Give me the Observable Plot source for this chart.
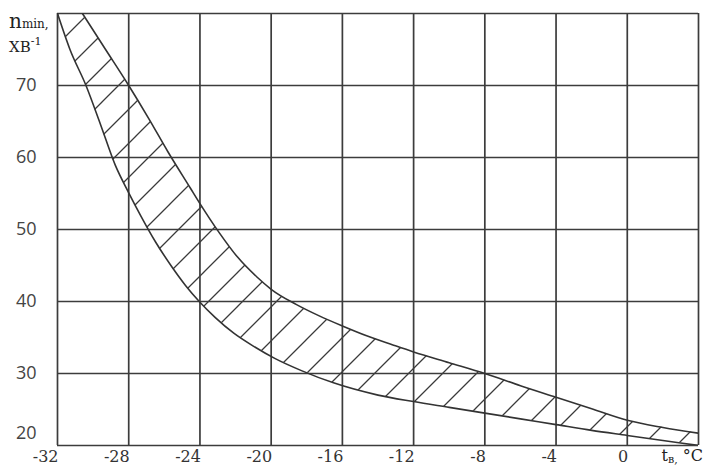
<!DOCTYPE html>
<html>
<head>
<meta charset="utf-8">
<script src="https://cdn.jsdelivr.net/npm/d3@7"></script>
<script src="https://cdn.jsdelivr.net/npm/@observablehq/plot@0.6"></script>
<style>
  html, body { margin: 0; padding: 0; background: #fff; }
  #chart { width: 704px; height: 465px; overflow: hidden; }
</style>
</head>
<body>
<div id="chart"></div>
<script>
// Grid / tick values
const xGrid = [-32, -28, -24, -20, -16, -12, -8, -4, 0, 4];
const xLabels = [-32, -28, -24, -20, -16, -12, -8, -4, 0];
const yGrid = [20, 30, 40, 50, 60, 70, 80];
const yLabels = [30, 40, 50, 60, 70];
const yLabelsLow = [20];

// Upper boundary of the band (n_min vs t_в)
const upperX = [-30.6, -29.3, -28, -26.85, -25.8, -24.55, -24, -22.9, -21.9, -20.8, -20, -18.6, -17.3, -16, -14.6, -13.2, -12, -10, -8, -6, -4, -2, 0, 2, 4];
const upperY = [80, 75, 70, 65.3, 60.8, 55.8, 53.6, 49.5, 46.2, 43.4, 41.7, 39.6, 38.0, 36.6, 35.2, 34.0, 33.0, 31.5, 30.0, 28.3, 26.7, 25.1, 23.5, 22.5, 21.7];

// Lower boundary of the band
const lowerX = [-32, -31.3, -30.4, -29.6, -28.75, -28, -27.3, -26.5, -25.6, -24.8, -24, -23.15, -22.1, -21, -19.8, -18.3, -16.5, -14, -12, -10, -8, -6, -4, -2, 0, 2, 4];
const lowerY = [80, 75, 70, 64.7, 58.9, 55.1, 51.8, 48.3, 44.9, 42.2, 39.9, 37.8, 35.6, 33.8, 32.1, 30.4, 28.7, 27.0, 26.1, 25.3, 24.5, 23.7, 22.9, 22.1, 21.4, 20.7, 20.0];

const upper = upperX.map((x, i) => ({x, y: upperY[i]}));
const lower = lowerX.map((x, i) => ({x, y: lowerY[i]}));

const ink = "#333";
const gridInk = "#3c3c3c";

const chart = Plot.plot({
  width: 704,
  height: 465,
  marginLeft: 57,
  marginRight: 6,
  marginTop: 13,
  marginBottom: 20,
  x: {domain: [-32, 4], axis: null},
  y: {domain: [20, 80], axis: null},
  style: {background: "#fff", overflow: "visible"},
  marks: [
    // hatched band: fill under upper curve, then blank out under lower curve
    Plot.areaY(upper, {x: "x", y: "y", fill: "url(#hatch)", curve: "monotone-x", clip: true}),
    Plot.rect([0], {x1: lowerX[0], x2: upperX[0], y1: yGrid[0], y2: yGrid[yGrid.length - 1], fill: "url(#hatch)"}),
    Plot.areaY(lower, {x: "x", y: "y", fill: "#fff", curve: "monotone-x", clip: true}),
    // grid
    Plot.ruleX(xGrid, {stroke: gridInk, strokeWidth: 1.7}),
    Plot.ruleY(yGrid, {stroke: gridInk, strokeWidth: 1.7}),
    // boundaries
    Plot.line(upper, {x: "x", y: "y", stroke: ink, strokeWidth: 1.6, curve: "monotone-x", clip: true}),
    Plot.line(lower, {x: "x", y: "y", stroke: ink, strokeWidth: 1.6, curve: "monotone-x", clip: true}),
    // tick labels
    Plot.text(xLabels, {x: d => d, frameAnchor: "bottom", textAnchor: "end", dx: 1, dy: 11, lineAnchor: "middle",
      fontFamily: "DejaVu Serif", fontSize: 16, fill: "#333"}),
    Plot.text(yLabels, {y: d => d, frameAnchor: "left", textAnchor: "end", dx: -21, lineAnchor: "middle",
      fontFamily: "Open Sans", fontSize: 18, fill: "#444"}),
    Plot.text(yLabelsLow, {y: d => d, frameAnchor: "left", textAnchor: "end", dx: -21, dy: -12, lineAnchor: "middle",
      fontFamily: "Open Sans", fontSize: 18, fill: "#444"})
  ]
});

const svg = d3.select(chart);
svg.insert("defs", ":first-child").html(
  '<pattern id="hatch" patternUnits="userSpaceOnUse" width="34" height="34">' +
  '<path d="M-6,6 L6,-6 M0,34 L34,0 M28,40 L40,28" stroke="#3a3a3a" stroke-width="1.3" fill="none"/>' +
  '</pattern>'
);

// Axis titles
const yt1 = svg.append("text").attr("x", 9).attr("y", 28).attr("text-anchor", "start")
  .attr("font-family", "DejaVu Serif").attr("fill", "#222");
yt1.append("tspan").attr("font-size", 20).text("n");
yt1.append("tspan").attr("font-size", 12).text("min,");
const yt2 = svg.append("text").attr("x", 9).attr("y", 52).attr("text-anchor", "start")
  .attr("font-family", "DejaVu Serif").attr("fill", "#222");
yt2.append("tspan").attr("font-size", 15).text("ХВ");
yt2.append("tspan").attr("font-size", 11).attr("dy", -7).text("-1");

const xt = svg.append("text").attr("x", 703).attr("y", 461).attr("text-anchor", "end")
  .attr("font-family", "DejaVu Serif").attr("fill", "#222");
xt.append("tspan").attr("font-size", 16).text("t");
xt.append("tspan").attr("font-size", 11).attr("dy", 2).text("в,");
xt.append("tspan").attr("font-size", 16).attr("dy", -2).text(" °C");

document.getElementById("chart").appendChild(chart);
</script>
</body>
</html>
